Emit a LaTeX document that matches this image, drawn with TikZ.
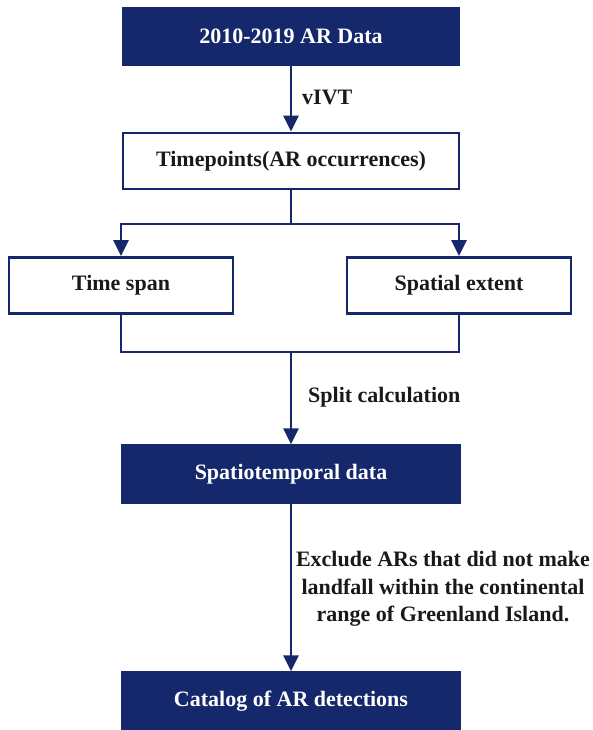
\documentclass[tikz,border=0pt]{standalone}
\usepackage{fontspec}
\setmainfont{Liberation Serif}
\usetikzlibrary{arrows.meta}
\definecolor{navy}{RGB}{22,40,108}
\tikzset{
  darkbox/.style={draw=navy, fill=navy, line width=1.5pt, text=white, minimum width=336pt, minimum height=58pt, inner sep=0pt, font=\bfseries\fontsize{22}{27.5}\selectfont},
  whitebox/.style={draw=navy, fill=white, line width=2.8pt, text=black!90, minimum height=56pt, inner sep=0pt, font=\bfseries\fontsize{22}{27.5}\selectfont},
  conn/.style={draw=navy, line width=2.8pt},
  arr/.style={conn, -{Triangle[length=16pt,width=15pt]}},
  lbl/.style={text=black!90, inner sep=0pt, font=\bfseries\fontsize{22}{27.5}\selectfont}
}
\begin{document}
\begin{tikzpicture}[x=1pt,y=-1pt]
\useasboundingbox (0,0) rectangle (593,730);
\node[darkbox] (b1) at (291,36.5) {2010-2019 AR Data};
\node[whitebox, minimum width=336pt] (b2) at (291,161) {Timepoints(AR occurrences)};
\node[whitebox, minimum width=224pt] (b3) at (121,285.5) {Time span};
\node[whitebox, minimum width=224pt] (b4) at (459,285.5) {Spatial extent};
\node[darkbox, minimum width=338pt] (b5) at (291,474) {Spatiotemporal data};
\node[darkbox, minimum width=338pt] (b6) at (291,701) {Catalog of AR detections};
\coordinate (s1) at (291,224);
\coordinate (s2) at (291,352);
\draw[arr] (b1.south) -- (b2.north);
\node[lbl, anchor=west] (l1) at (302,97) {vIVT};
\draw[conn] (b2.south) -- (s1);
\draw[arr] (s1) -| (b3.north);
\draw[arr] (s1) -| (b4.north);
\draw[conn] (b3.south) |- (s2);
\draw[conn] (b4.south) |- (s2);
\draw[arr] (s2) -- (b5.north);
\node[lbl, anchor=west] (l2) at (308,397) {Split calculation};
\draw[arr] (b5.south) -- (b6.north);
\node[lbl, align=center] (l3) at (443,589) {Exclude ARs that did not make\\landfall within the continental\\range of Greenland Island.};
\end{tikzpicture}
\end{document}
